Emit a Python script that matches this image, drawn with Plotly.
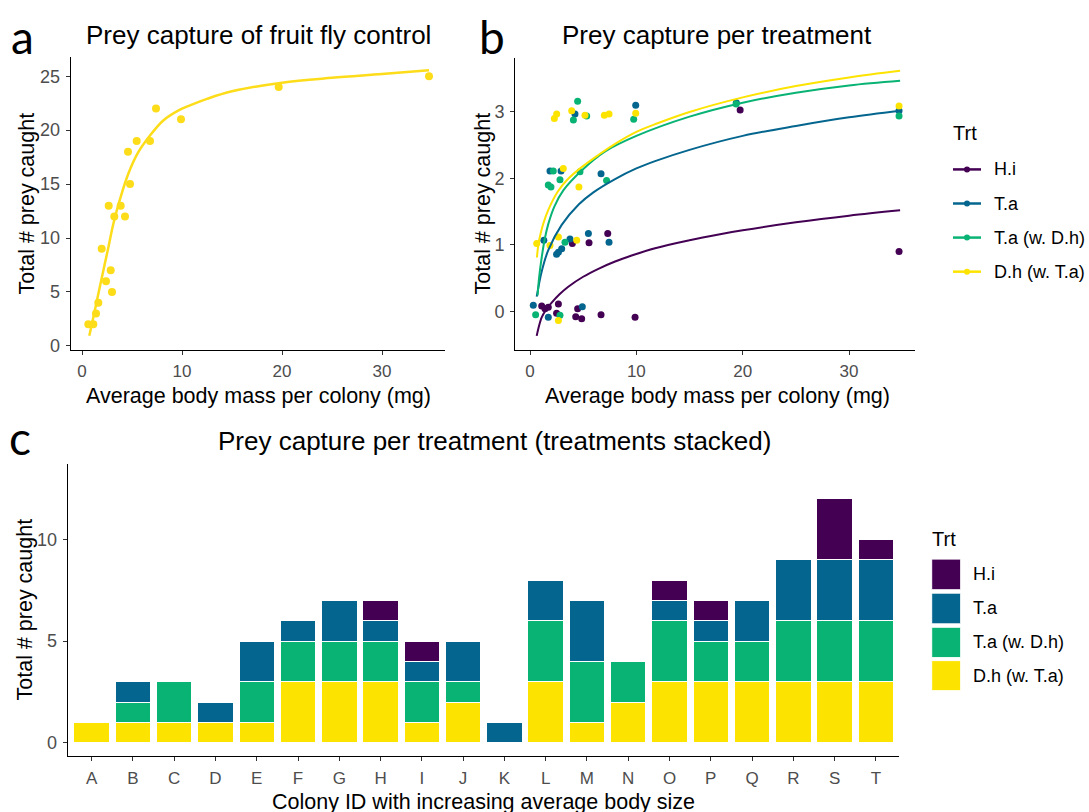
import plotly.graph_objects as go

W, H = 1089, 820  # rendered page is squeezed vertically by ~1%; paper fractions are taken from an 812-px target

# ---------------- data ----------------
# Panel a: fruit fly control
fly_mass = [0.63, 1.13, 1.4, 1.63, 1.97, 2.4, 2.67, 2.87, 3.0, 3.23, 3.87, 4.3, 4.6, 4.8, 5.47, 6.8, 7.4, 9.9, 19.67, 34.7]
fly_prey = [2, 2, 3, 4, 9, 6, 13, 7, 5, 12, 13, 12, 18, 15, 19, 19, 22, 21, 24, 25]
fly_fit_x = [0.73, 1.13, 1.63, 2.13, 2.63, 3.13, 3.8, 4.63, 5.63, 6.8, 8.13, 9.8, 10.8, 12.5, 15, 20, 25, 30, 34.7]
fly_fit_y = [0.93, 2.63, 4.8, 6.97, 9.1, 11.3, 13.6, 15.96, 17.96, 19.5, 20.9, 21.9, 22.3, 22.9, 23.6, 24.4, 24.85, 25.2, 25.55]

# Panel b: points per treatment (jittered as in the picture)
treatments = ["H.i", "T.a", "T.a (w. D.h)", "D.h (w. T.a)"]
hi_x = [1.1, 1.41, 1.72, 2.5, 2.67, 3.98, 4.3, 4.48, 4.86, 5.55, 6.68, 7.31, 9.88, 19.76, 34.7]
hi_y = [0.08, 0.04, 0.06, -0.03, 0.11, 1.02, -0.08, 0.04, -0.11, 1.03, -0.05, 1.17, -0.09, 3.03, 0.9]
ta_x = [0.31, 1.3, 1.72, 1.88, 2.5, 2.67, 2.92, 2.98, 3.76, 4.23, 4.92, 5.49, 6.68, 7.43, 9.94, 19.4, 34.7]
ta_y = [0.09, 1.07, -0.09, 2.11, 0.86, 0.89, 2.11, 0.94, 1.09, 2.97, 0.07, 1.17, 2.07, 1.04, 3.10, 3.14, 3.02]
tad_x = [0.53, 1.72, 1.97, 2.19, 2.82, 2.82, 3.29, 4.08, 4.48, 4.7, 5.33, 7.2, 9.75, 19.38, 34.7]
tad_y = [-0.05, 1.90, 1.87, 2.11, 1.98, -0.06, 1.04, 2.88, 3.16, 2.10, 2.94, 1.97, 2.89, 3.12, 2.94]
dh_x = [0.63, 1.88, 2.29, 2.51, 2.67, 2.67, 3.13, 3.92, 4.39, 4.6, 5.17, 6.99, 7.43, 9.94, 34.7]
dh_y = [1.02, 0.99, 2.90, 2.97, 1.12, -0.14, 2.15, 3.02, 1.07, 1.87, 2.95, 2.95, 2.97, 2.98, 3.09]

# Panel b: fitted curves
hi_fit_x = [0.63, 0.8, 1.1, 1.5, 2.04, 2.8, 3.6, 5, 6.43, 8, 9.56, 11.76, 15, 17.87, 20, 25, 30, 34.8]
hi_fit_y = [-0.37, -0.25, -0.09, 0.02, 0.13, 0.26, 0.37, 0.52, 0.64, 0.75, 0.84, 0.95, 1.07, 1.16, 1.22, 1.34, 1.44, 1.52]
ta_fit_x = [0.63, 1.1, 1.72, 2.98, 4.6, 5.96, 8.0, 10, 11.76, 15, 20, 25, 30, 34.8]
ta_fit_y = [0.22, 0.60, 0.92, 1.30, 1.61, 1.79, 1.99, 2.15, 2.26, 2.43, 2.64, 2.79, 2.92, 3.02]
tad_fit_x = [0.72, 0.85, 1.1, 1.4, 1.73, 2.3, 3.13, 4.86, 7.0, 10, 15, 20, 25, 30, 34.8]
tad_fit_y = [0.24, 0.50, 0.81, 1.10, 1.32, 1.58, 1.82, 2.12, 2.40, 2.64, 2.93, 3.14, 3.29, 3.40, 3.47]
dh_fit_x = [0.65, 0.8, 1.0, 1.25, 1.73, 2.6, 3.5, 4.86, 6.5, 8, 10, 12, 15, 20, 25, 30, 34.8]
dh_fit_y = [0.81, 1.02, 1.17, 1.32, 1.53, 1.80, 1.98, 2.17, 2.36, 2.52, 2.70, 2.83, 3.0, 3.22, 3.39, 3.52, 3.62]

# Panel c: stacked counts per colony
colonies = list("ABCDEFGHIJKLMNOPQRST")
dh_counts = [1, 1, 1, 1, 1, 3, 3, 3, 1, 2, 0, 3, 1, 2, 3, 3, 3, 3, 3, 3]
tad_counts = [0, 1, 2, 0, 2, 2, 2, 2, 2, 1, 0, 3, 3, 2, 3, 2, 2, 3, 3, 3]
ta_counts = [0, 1, 0, 1, 2, 1, 2, 1, 1, 2, 1, 2, 3, 0, 1, 1, 2, 3, 3, 3]
hi_counts = [0, 0, 0, 0, 0, 0, 0, 1, 1, 0, 0, 0, 0, 0, 1, 1, 0, 0, 3, 1]

# ---------------- style ----------------
C_HI = "#440154"
C_TA = "#04668E"
C_TAD = "#08B374"
C_DH = "#FDE300"
C_FLY = "#FDDC1A"
FONT = "Liberation Sans, Arial, sans-serif"
TW, TH = 1089, 812  # target picture size for the pixel positions below


def px_x(p):
    return p / TW


def px_y(p):
    return 1 - p / TH


fig = go.Figure()

# Panel a
fig.add_trace(go.Scatter(x=fly_fit_x, y=fly_fit_y, mode="lines", line=dict(color=C_FLY, width=2.5, shape="spline"),
                         xaxis="x", yaxis="y", showlegend=False))
fig.add_trace(go.Scatter(x=fly_mass, y=fly_prey, mode="markers", marker=dict(color=C_FLY, size=8),
                         xaxis="x", yaxis="y", showlegend=False))

# Panel b
series_b = [
    (hi_x, hi_y, hi_fit_x, hi_fit_y, C_HI),
    (ta_x, ta_y, ta_fit_x, ta_fit_y, C_TA),
    (tad_x, tad_y, tad_fit_x, tad_fit_y, C_TAD),
    (dh_x, dh_y, dh_fit_x, dh_fit_y, C_DH),
]
for sx, sy, fx, fy, col in series_b:
    fig.add_trace(go.Scatter(x=sx, y=sy, mode="markers", marker=dict(color=col, size=7),
                             xaxis="x2", yaxis="y2", showlegend=False))
for sx, sy, fx, fy, col in series_b:
    fig.add_trace(go.Scatter(x=fx, y=fy, mode="lines", line=dict(color=col, width=2, shape="spline"),
                             xaxis="x2", yaxis="y2", showlegend=False))

# Panel c (stack: D.h bottom -> H.i top)
for vals, col, name in [(dh_counts, C_DH, treatments[3]), (tad_counts, C_TAD, treatments[2]),
                        (ta_counts, C_TA, treatments[1]), (hi_counts, C_HI, treatments[0])]:
    fig.add_trace(go.Bar(x=colonies, y=[v if v else None for v in vals], name=name,
                         marker=dict(color=col, line=dict(color="white", width=1)),
                         width=0.86, xaxis="x3", yaxis="y3", showlegend=False))

axis_common = dict(showline=True, linecolor="black", linewidth=1, ticks="outside", ticklen=4,
                   tickcolor="#333333", tickwidth=1, showgrid=False, zeroline=False,
                   tickfont=dict(family=FONT, size=18, color="#4d4d4d"))

fig.update_layout(
    width=W, height=H, margin=dict(l=0, r=0, t=0, b=0),
    paper_bgcolor="white", plot_bgcolor="white", barmode="stack", showlegend=False,
    xaxis=dict(domain=[px_x(70.7), px_x(445)], range=[-1.13, 36.3], tickvals=[0, 10, 20, 30], anchor="y", **axis_common),
    yaxis=dict(domain=[px_y(349), px_y(57)], range=[-0.37, 26.77], tickvals=[0, 5, 10, 15, 20, 25], anchor="x", **axis_common),
    xaxis2=dict(domain=[px_x(515), px_x(915)], range=[-1.41, 36.2], tickvals=[0, 10, 20, 30], anchor="y2", **axis_common),
    yaxis2=dict(domain=[px_y(349), px_y(58)], range=[-0.58, 3.81], tickvals=[0, 1, 2, 3], anchor="x2", **axis_common),
    xaxis3=dict(domain=[px_x(67.7), px_x(899)], range=[-0.58, 19.56], type="category", anchor="y3", **axis_common),
    yaxis3=dict(domain=[px_y(754.3), px_y(463.3)], range=[-0.66, 13.7], tickvals=[0, 5, 10], anchor="x3", **axis_common),
)
fig.update_xaxes(tickfont=dict(size=17), ticklabelstandoff=2)
fig.update_yaxes(ticklabelstandoff=2)

ann = []


def text(x, y, s, size, color="black", xanchor="center", angle=0, family=FONT):
    ann.append(dict(x=px_x(x), y=px_y(y), xref="paper", yref="paper", text=s, showarrow=False,
                    xanchor=xanchor, yanchor="middle", textangle=angle,
                    font=dict(family=family, size=size, color=color)))


# panel letters
text(22, 36, "a", 46, family="Lato, Open Sans, sans-serif")
text(492, 36, "b", 46, family="Lato, Open Sans, sans-serif")
text(20, 436, "c", 46, family="Lato, Open Sans, sans-serif")

# titles
text(258, 35, "Prey capture of fruit fly control", 26)
text(717, 35, "Prey capture per treatment", 26)
text(494, 440, "Prey capture per treatment (treatments stacked)", 26)

# axis titles
text(258, 395, "Average body mass per colony (mg)", 21.5)
text(717, 395, "Average body mass per colony (mg)", 21.5)
text(483, 800, "Colony ID with increasing average body size", 21.5)
text(26, 203, "Total # prey caught", 21.5, angle=-90)
text(482, 203, "Total # prey caught", 21.5, angle=-90)
text(25, 608, "Total # prey caught", 21.5, angle=-90)

# legend b
shapes = []
text(951, 133, "Trt", 20, xanchor="left")
leg_b_y = [169, 203, 237, 271]
for yy, col, name in zip(leg_b_y, [C_HI, C_TA, C_TAD, C_DH], treatments):
    shapes.append(dict(type="line", xref="paper", yref="paper", x0=px_x(953), x1=px_x(981), y0=px_y(yy), y1=px_y(yy),
                       line=dict(color=col, width=2.5)))
    shapes.append(dict(type="circle", xref="paper", yref="paper", x0=px_x(964), x1=px_x(970), y0=px_y(yy + 3), y1=px_y(yy - 3),
                       fillcolor=col, line=dict(color=col, width=0)))
    text(992, yy, name, 18, xanchor="left")

# legend c
text(930, 538, "Trt", 20, xanchor="left")
leg_c = [(557.7, 588.3), (591.7, 622.3), (625.7, 656), (659, 689)]
for (y0, y1), col, name in zip(leg_c, [C_HI, C_TA, C_TAD, C_DH], treatments):
    shapes.append(dict(type="rect", xref="paper", yref="paper", x0=px_x(931.7), x1=px_x(960.7), y0=px_y(y1), y1=px_y(y0),
                       fillcolor=col, line=dict(color="white", width=1)))
    text(971, (y0 + y1) / 2, name, 18, xanchor="left")

fig.update_layout(annotations=ann, shapes=shapes)
fig.write_html("out.html", config={"displayModeBar": False},
               post_script="document.body.style.margin='0';document.body.style.overflow='hidden';")
